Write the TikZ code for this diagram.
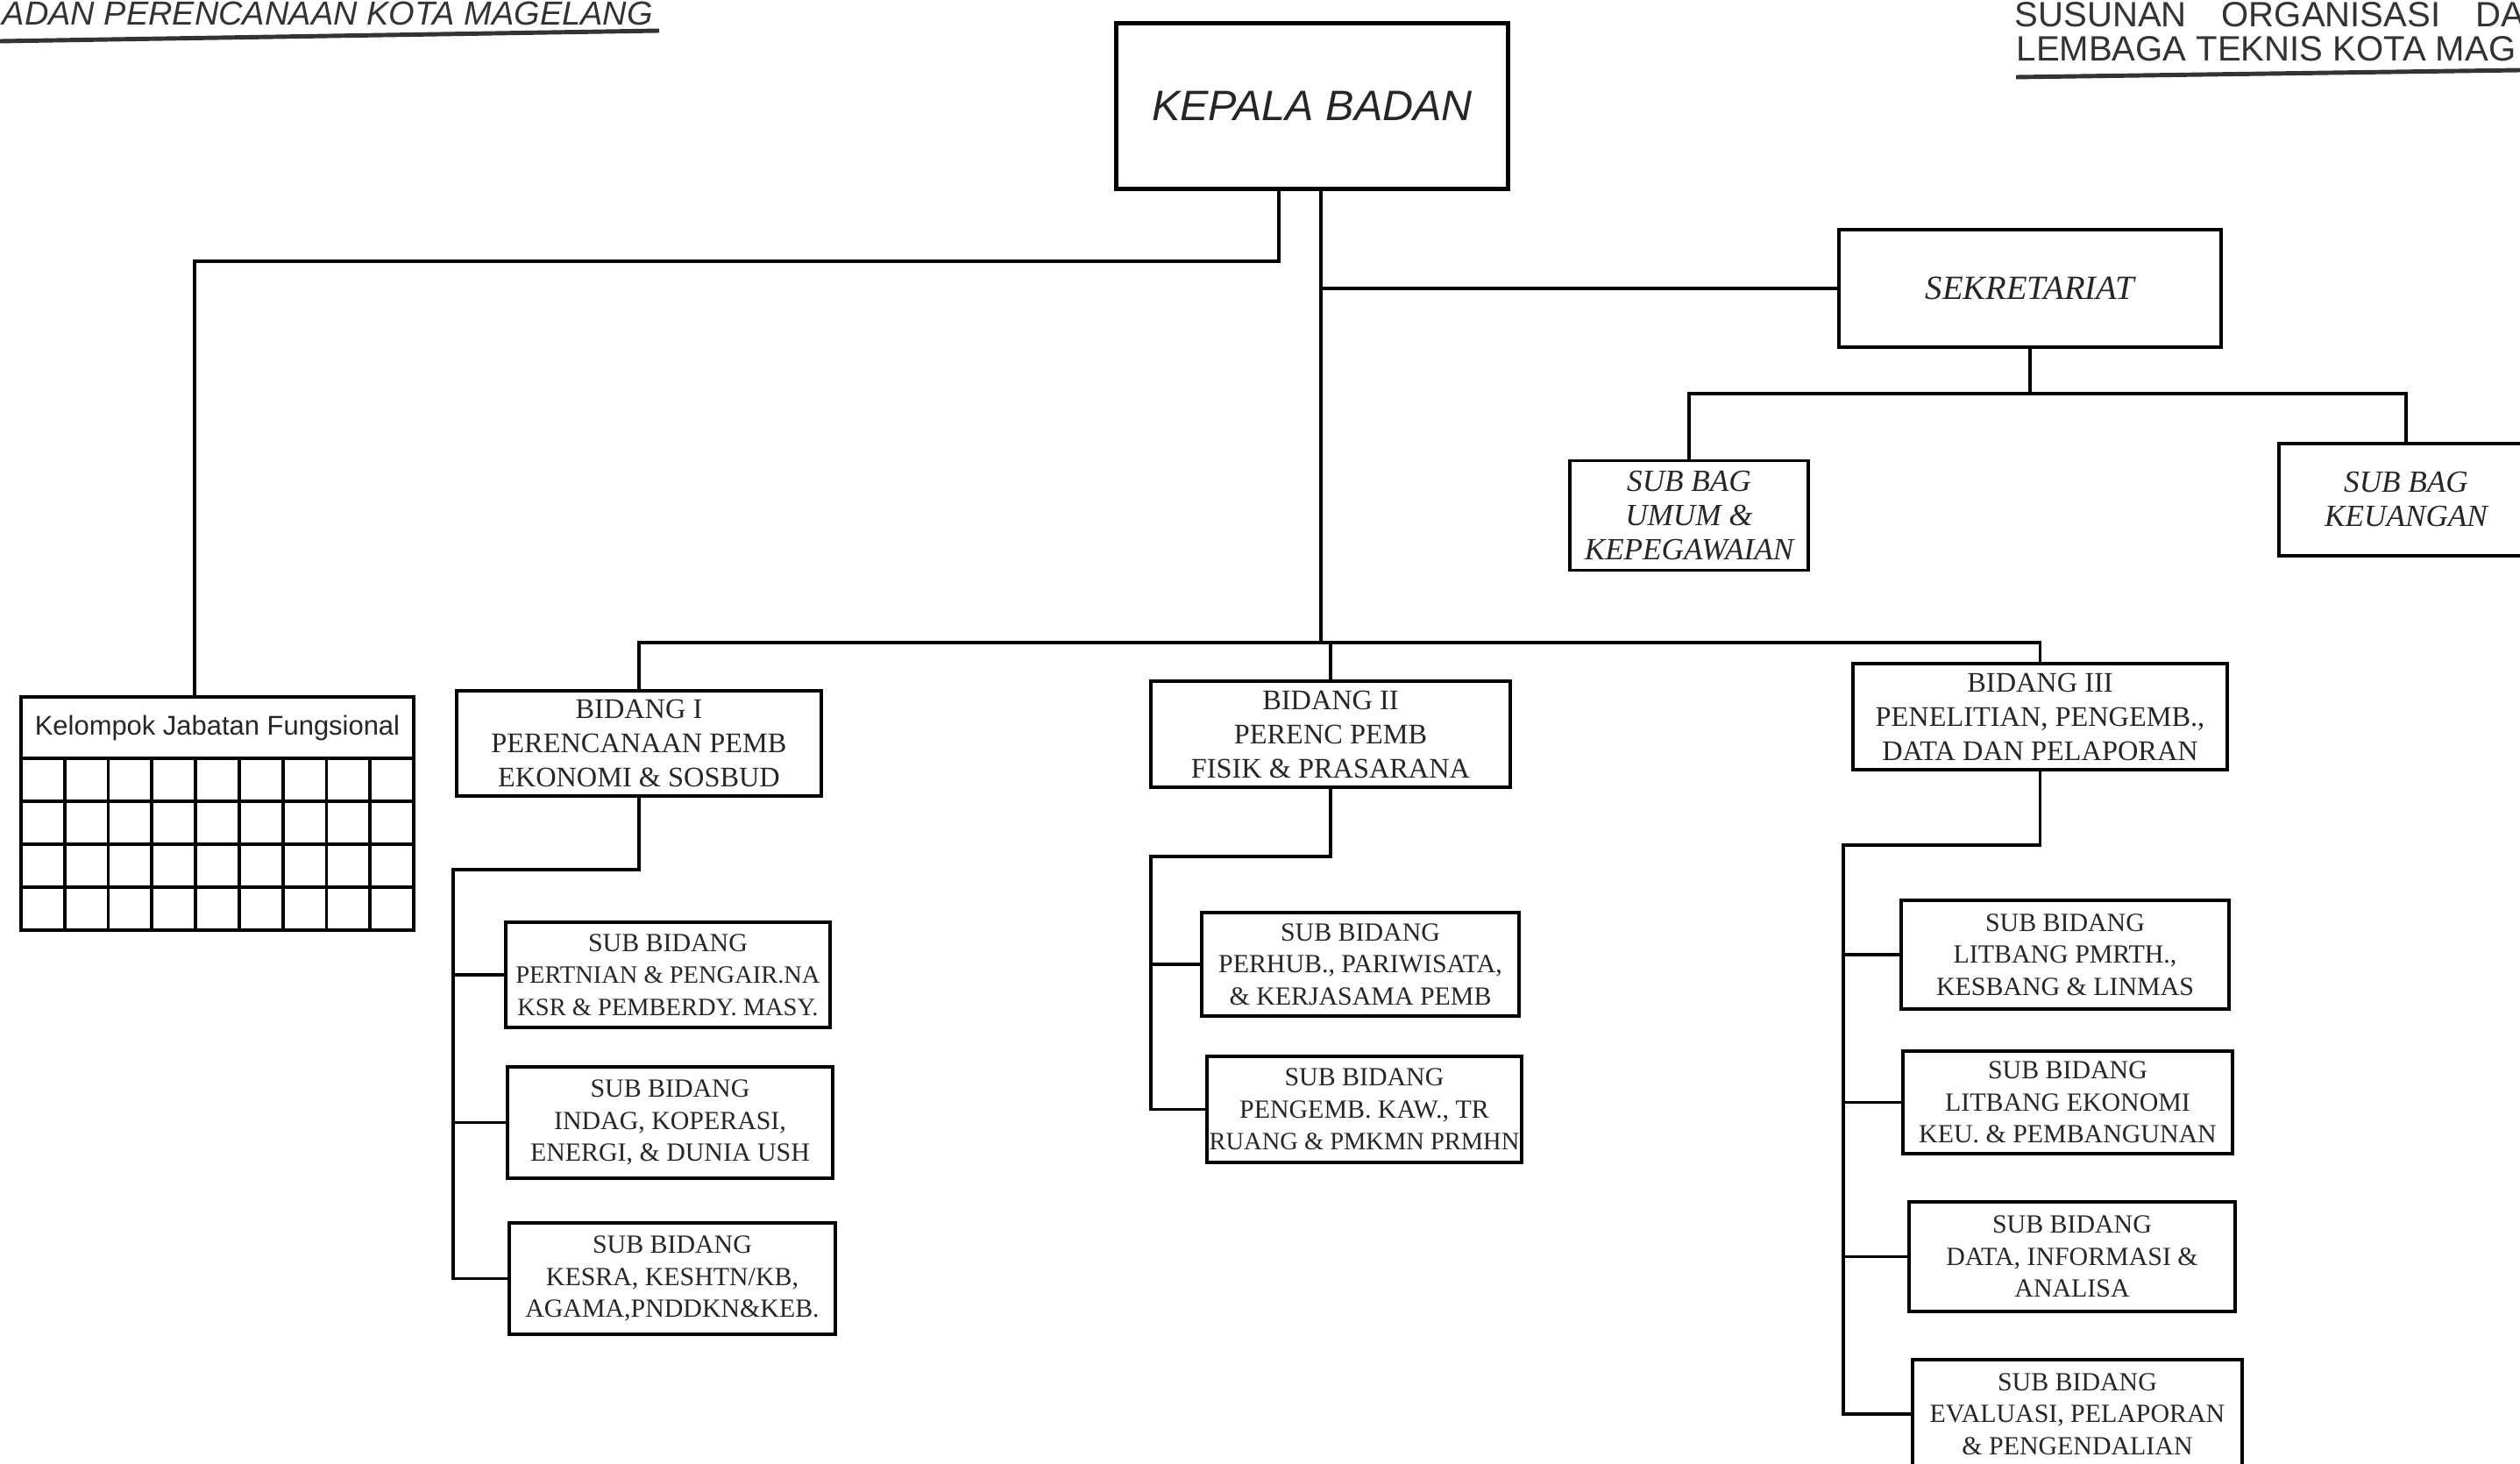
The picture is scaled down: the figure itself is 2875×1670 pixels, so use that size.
\documentclass[tikz,border=0pt]{standalone}
\usepackage{fontspec}
\setmainfont{Liberation Serif}
\newfontfamily\sansf{Liberation Sans}
\begin{document}
\begin{tikzpicture}[x=0.01cm,y=-0.01cm,
  box/.style={draw, line width=1.1pt, inner sep=0pt, align=center, text=black!85},
  subtxt/.style={font=\fontsize{8.5}{10.4}\selectfont},
  bidtxt/.style={font=\fontsize{9.2}{11.1}\selectfont},
  sbtxt/.style={font=\itshape\fontsize{10}{11.1}\selectfont},
  conn/.style={line width=0.9pt},
  hdr/.style={anchor=base west, inner sep=0pt, text=black!80}]
\useasboundingbox (0,0) rectangle (2875,1670);

% headers
\node[hdr, font=\sansf\itshape\fontsize{10.8}{12}\selectfont] (hdl) at (2,29) {ADAN PERENCANAAN KOTA MAGELANG};
\draw[line width=1.4pt, black!80] (0,47) -- (752,35);
\node[hdr, font=\sansf\fontsize{11.4}{13}\selectfont] (hdr1) at (2298,31) {SUSUNAN\hspace{0.4cm}ORGANISASI\hspace{0.4cm}DA};
\node[hdr, font=\sansf\fontsize{11.4}{13}\selectfont] (hdr2) at (2300,70) {LEMBAGA TEKNIS KOTA MAG};
\draw[line width=1.4pt, black!80] (2300,88) -- (2875,80);

% top
\node[box, line width=1.4pt, minimum width=4.46cm, minimum height=1.88cm,
      font=\sansf\itshape\fontsize{13.8}{16}\selectfont] (kepala) at (1497,121) {KEPALA BADAN};
\node[box, minimum width=4.35cm, minimum height=1.34cm,
      font=\itshape\fontsize{11}{13}\selectfont] (sek) at (2316,329) {SEKRETARIAT};
\node[box, sbtxt, minimum width=2.72cm, minimum height=1.25cm] (sbu) at (1927,588) {SUB BAG\\UMUM \&\\KEPEGAWAIAN};
\node[box, sbtxt, minimum width=2.90cm, minimum height=1.28cm] (sbk) at (2745,570) {SUB BAG\\KEUANGAN};

% kelompok jabatan fungsional
\node[box, minimum width=4.48cm, minimum height=0.70cm,
      font=\sansf\fontsize{8.8}{10}\selectfont] (kjf) at (248,830) {Kelompok Jabatan Fungsional};
\draw[line width=1.1pt] (24,865) rectangle (472,1061);
\foreach \i in {1,...,8} \draw[line width=1.1pt] ({24+\i*49.78},865) -- ({24+\i*49.78},1061);
\foreach \yy in {914,963,1012} \draw[line width=1.1pt] (24,\yy) -- (472,\yy);

% bidang
\node[box, bidtxt, minimum width=4.16cm, minimum height=1.20cm] (b1) at (729,848) {BIDANG I\\PERENCANAAN PEMB\\EKONOMI \& SOSBUD};
\node[box, bidtxt, minimum width=4.10cm, minimum height=1.21cm] (b2) at (1518,837.5) {BIDANG II\\PERENC PEMB\\FISIK \& PRASARANA};
\node[box, bidtxt, minimum width=4.27cm, minimum height=1.21cm] (b3) at (2327.5,817.5) {BIDANG III\\PENELITIAN, PENGEMB.,\\DATA DAN PELAPORAN};

% sub bidang
\node[box, subtxt, minimum width=3.70cm, minimum height=1.20cm] (s1a) at (762,1112) {SUB BIDANG\\{\fontsize{8.1}{10.4}\selectfont PERTNIAN \& PENGAIR.NA}\\{\fontsize{8.1}{10.4}\selectfont KSR \& PEMBERDY. MASY.}};
\node[box, subtxt, minimum width=3.71cm, minimum height=1.27cm] (s1b) at (764.5,1280.5) {SUB BIDANG\\INDAG, KOPERASI,\\ENERGI, \& DUNIA USH};
\node[box, subtxt, minimum width=3.72cm, minimum height=1.27cm] (s1c) at (767,1458.5) {SUB BIDANG\\KESRA, KESHTN/KB,\\AGAMA,PNDDKN\&KEB.};

\node[box, subtxt, minimum width=3.62cm, minimum height=1.18cm] (s2a) at (1552,1100) {SUB BIDANG\\PERHUB., PARIWISATA,\\\& KERJASAMA PEMB};
\node[box, subtxt, minimum width=3.59cm, minimum height=1.21cm] (s2b) at (1556.5,1265.5) {SUB BIDANG\\PENGEMB. KAW., TR\\{\fontsize{8.1}{10.4}\selectfont RUANG \& PMKMN PRMHN}};

\node[box, subtxt, minimum width=3.74cm, minimum height=1.24cm] (s3a) at (2356,1089) {SUB BIDANG\\LITBANG PMRTH.,\\KESBANG \& LINMAS};
\node[box, subtxt, minimum width=3.76cm, minimum height=1.17cm] (s3b) at (2359,1257.5) {SUB BIDANG\\LITBANG EKONOMI\\KEU. \& PEMBANGUNAN};
\node[box, subtxt, minimum width=3.72cm, minimum height=1.25cm] (s3c) at (2364,1433.5) {SUB BIDANG\\DATA, INFORMASI \&\\ANALISA};
\node[box, subtxt, minimum width=3.76cm, minimum height=1.24cm] (s3d) at (2370,1613) {SUB BIDANG\\EVALUASI, PELAPORAN\\\& PENGENDALIAN};

% connectors from kepala
\path (kepala.south) ++(-38,0) coordinate (kA);
\path (kepala.south) ++(10,0) coordinate (kB);
\coordinate (kjfc) at (222,298);
\coordinate (hub) at (1507,733);
\draw[conn] (kA) |- (kjfc) -- (kjfc |- kjf.north);
\draw[conn] (kB) -- (hub);
\draw[conn] (kB |- sek.west) -- (sek.west);
\draw[conn] (b1.north) |- (hub);
\draw[conn] (b3.north) |- (hub);
\draw[conn] (b2.north) -- (b2.north |- hub);

% sekretariat children
\path (sek.south) ++(0,51) coordinate (sj);
\draw[conn] (sek.south) -- (sj);
\draw[conn] (sbu.north) |- (sj);
\draw[conn] (sbk.north) |- (sj);

% bidang I children
\coordinate (t1) at (517,992);
\draw[conn] (b1.south) |- (t1) -- (t1 |- s1c.west) -- (s1c.west);
\draw[conn] (t1 |- s1a.west) -- (s1a.west);
\draw[conn] (t1 |- s1b.west) -- (s1b.west);

% bidang II children
\coordinate (t2) at (1313,977);
\draw[conn] (b2.south) |- (t2) -- (t2 |- s2b.west) -- (s2b.west);
\draw[conn] (t2 |- s2a.west) -- (s2a.west);

% bidang III children
\coordinate (t3) at (2103,964);
\draw[conn] (b3.south) |- (t3) -- (t3 |- s3d.west) -- (s3d.west);
\draw[conn] (t3 |- s3a.west) -- (s3a.west);
\draw[conn] (t3 |- s3b.west) -- (s3b.west);
\draw[conn] (t3 |- s3c.west) -- (s3c.west);
\end{tikzpicture}
\end{document}
